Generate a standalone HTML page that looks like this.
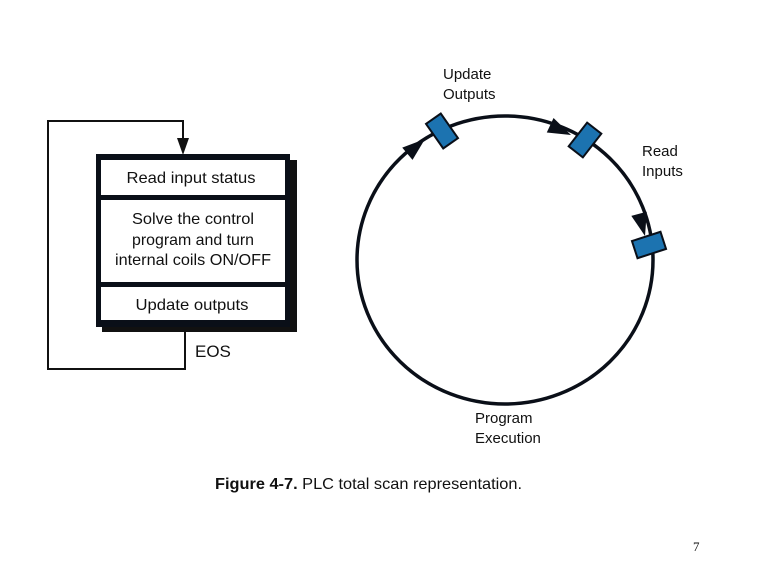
<!DOCTYPE html>
<html><head><meta charset="utf-8"><style>
html,body{margin:0;padding:0;background:#fff;}
svg{display:block;}
text{font-family:"Liberation Sans",Arial,sans-serif;fill:#111;}
</style></head><body>
<svg width="769" height="576" viewBox="0 0 769 576" xmlns="http://www.w3.org/2000/svg">
<polyline points="185,330 185,369 48,369 48,121 183,121 183,140" fill="none" stroke="#111" stroke-width="2"/>
<polygon points="177,138 189,138 183,155" fill="#111"/>
<rect x="102" y="160" width="195" height="172" fill="#111"/>
<rect x="96" y="154" width="194" height="173" fill="#0a0f18"/>
<rect x="101" y="160" width="184" height="35" fill="#fff"/>
<rect x="101" y="200" width="184" height="82" fill="#fff"/>
<rect x="101" y="287" width="184" height="33" fill="#fff"/>
<text x="191" y="183" font-size="16" text-anchor="middle" textLength="129" lengthAdjust="spacingAndGlyphs">Read input status</text>
<text x="193" y="224" font-size="16" text-anchor="middle" textLength="122" lengthAdjust="spacingAndGlyphs">Solve the control</text>
<text x="193" y="245" font-size="16" text-anchor="middle" textLength="122" lengthAdjust="spacingAndGlyphs">program and turn</text>
<text x="193" y="265" font-size="16" text-anchor="middle" textLength="156" lengthAdjust="spacingAndGlyphs">internal coils ON/OFF</text>
<text x="192" y="310" font-size="16" text-anchor="middle" textLength="113" lengthAdjust="spacingAndGlyphs">Update outputs</text>
<text x="195" y="357" font-size="17">EOS</text>
<ellipse cx="505" cy="260" rx="148" ry="144" fill="none" stroke="#0a0f18" stroke-width="3.5"/>
<polygon points="0,0 -23,-8 -23,8" fill="#0a0f18" transform="translate(425,139) rotate(-40)"/>
<polygon points="0,0 -23,-8 -23,8" fill="#0a0f18" transform="translate(571,135) rotate(25)"/>
<polygon points="0,0 -23,-8 -23,8" fill="#0a0f18" transform="translate(645,236) rotate(75)"/>
<rect x="-9" y="-15" width="18" height="30" fill="#1c73b0" stroke="#0a0f18" stroke-width="2" transform="translate(442,131) rotate(-35)"/>
<rect x="-9" y="-15" width="18" height="30" fill="#1c73b0" stroke="#0a0f18" stroke-width="2" transform="translate(585,140) rotate(38)"/>
<rect x="-9" y="-15" width="18" height="30" fill="#1c73b0" stroke="#0a0f18" stroke-width="2" transform="translate(649,245) rotate(72)"/>
<text x="443" y="79" font-size="15">Update</text>
<text x="443" y="99" font-size="15">Outputs</text>
<text x="642" y="156" font-size="15">Read</text>
<text x="642" y="176" font-size="15">Inputs</text>
<text x="475" y="423" font-size="15">Program</text>
<text x="475" y="443" font-size="15">Execution</text>
<text x="215" y="489" font-size="16" textLength="307" lengthAdjust="spacingAndGlyphs"><tspan font-weight="bold">Figure 4-7. </tspan>PLC total scan representation.</text>
<text x="693" y="551" font-size="13" style="font-family:'Liberation Serif',serif">7</text>
</svg>
</body></html>
